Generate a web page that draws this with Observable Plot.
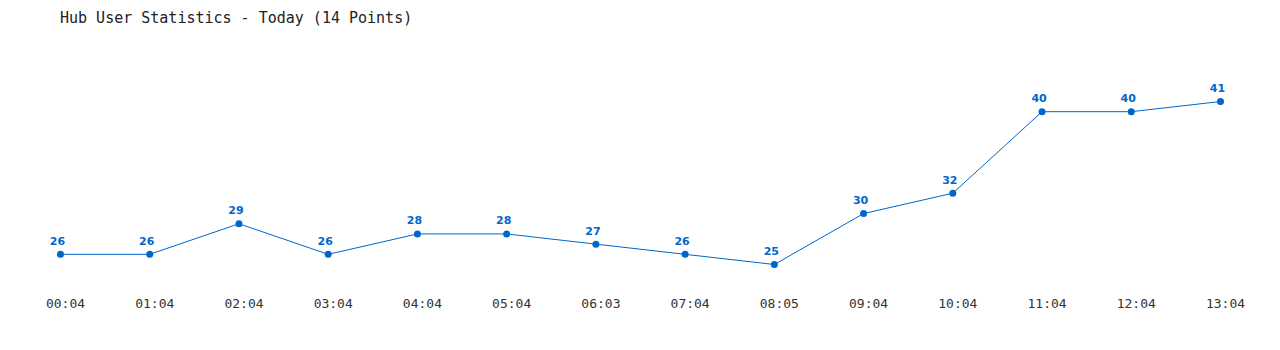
<!DOCTYPE html>
<html><head><meta charset="utf-8">
<script src="https://cdn.jsdelivr.net/npm/d3@7"></script>
<script src="https://cdn.jsdelivr.net/npm/@observablehq/plot@0.6"></script>
<style>
body{margin:0;background:#fff;}
#title{height:36px;box-sizing:border-box;padding-left:60px;padding-top:9px;font:15px "DejaVu Sans Mono",monospace;color:#222;white-space:pre;}
svg{display:block;}
</style></head><body>
<div id="title">Hub User Statistics - Today (14 Points)</div>
<div id="chart"></div>
<script>
const times = ["00:04","01:04","02:04","03:04","04:04","05:04","06:03","07:04","08:05","09:04","10:04","11:04","12:04","13:04"];
const users = [26,26,29,26,28,28,27,26,25,30,32,40,40,41];
const data = times.map((t,i)=>({t, v: users[i]}));
const blue = "#0066cc";
const chart = Plot.plot({
  width: 1280, height: 314,
  marginLeft: 60, marginRight: 60, marginTop: 0, marginBottom: 56,
  x: {type: "point", domain: times, padding: 0, round: false},
  y: {domain: [25, 41], range: [228, 65], axis: null},
  style: {background: "#fff"},
  marks: [
    Plot.axisX({tickSize: 0, tickPadding: 4, dx: 5, fontSize: 13, fontFamily: "DejaVu Sans Mono, monospace", fill: "#333", label: null}),
    Plot.line(data, {x: "t", y: "v", stroke: blue, strokeWidth: 1}),
    Plot.dot(data, {x: "t", y: "v", r: 3.5, fill: blue}),
    Plot.text(data, {x: "t", y: "v", text: d => String(d.v), dy: -13, dx: -3, fill: blue, fontWeight: "bold", fontSize: 11, fontFamily: "DejaVu Sans, sans-serif"})
  ]
});
document.getElementById("chart").append(chart);
</script>
</body></html>
